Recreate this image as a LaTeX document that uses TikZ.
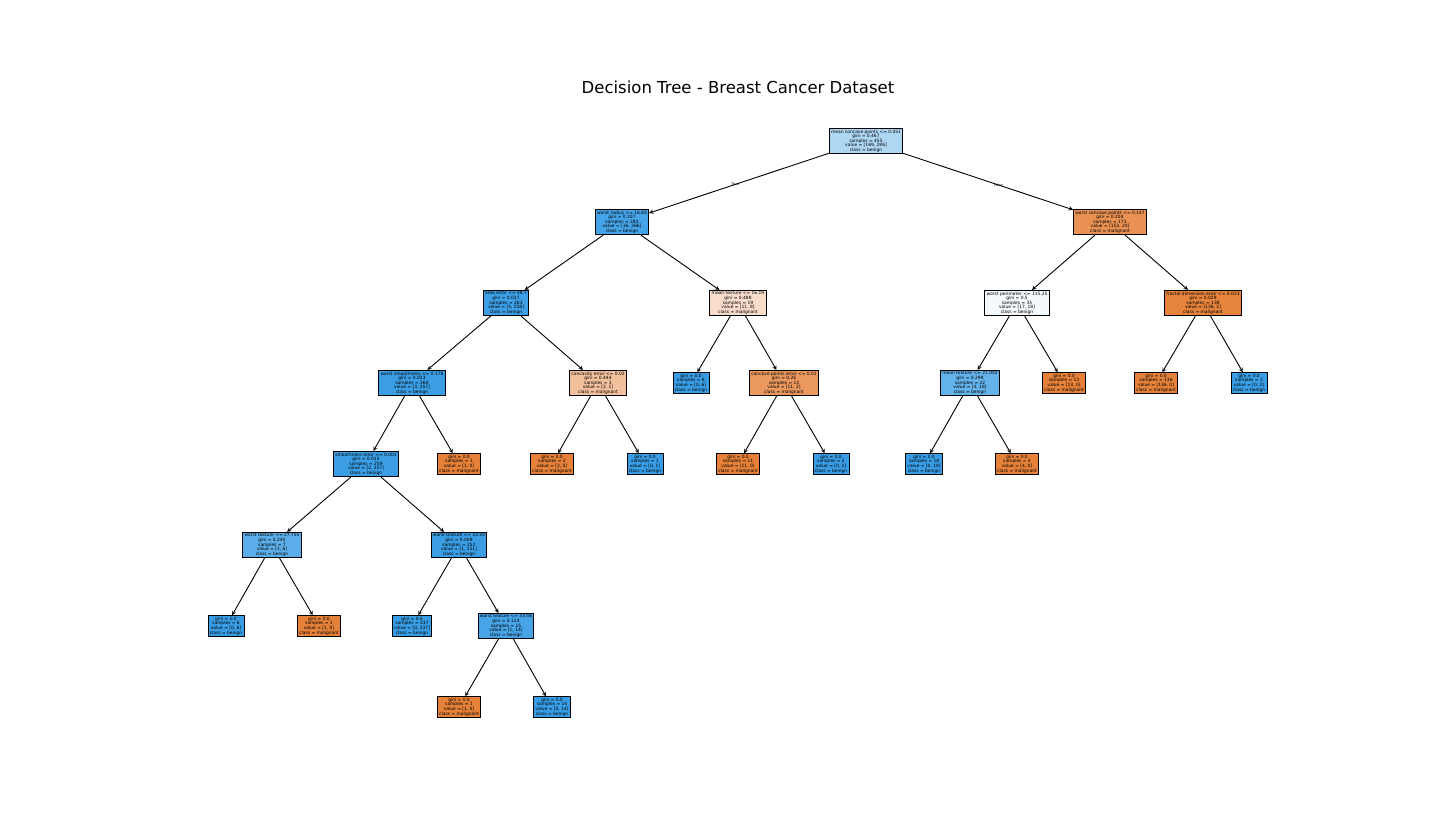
\documentclass[tikz,border=0pt]{standalone}
\usepackage{fontspec}
\setmainfont{DejaVu Sans}
\usetikzlibrary{arrows}
\definecolor{malig}{RGB}{229,129,57}
\definecolor{benig}{RGB}{57,157,229}
\tikzset{
    box/.style={draw=black, line width=0.9pt, rectangle, align=center, inner xsep=1.8pt, inner ysep=1.3pt,
        font=\fontsize{4.4}{4.6}\selectfont},
    edge/.style={line width=0.9pt, -stealth}
}

\begin{document}
\begin{tikzpicture}[x=1pt, y=-1pt]
        \fill[white] (0, 0) rectangle (1440, 840);
        \node[font=\fontsize{16.5}{19}\selectfont] (title) at (738, 87) {Decision Tree - Breast Cancer Dataset};

        \node[box, fill=benig!41!white] (n0) at (866, 141) {mean concave points <= 0.051\\gini = 0.467\\samples = 455\\value = [169, 286]\\class = benign};

        \node[box, fill=benig!94!white] (n1) at (622, 222) {worst radius <= 16.83\\gini = 0.107\\samples = 282\\value = [16, 266]\\class = benign};
        \node[box, fill=malig!87!white] (n2) at (1110, 222) {worst concave points <= 0.147\\gini = 0.204\\samples = 173\\value = [153, 20]\\class = malignant};

        \node[box, fill=benig!98!white] (n3) at (506, 303) {area error <= 48.7\\gini = 0.037\\samples = 263\\value = [5, 258]\\class = benign};
        \node[box, fill=malig!27!white] (n4) at (738, 303) {mean texture <= 16.19\\gini = 0.488\\samples = 19\\value = [11, 8]\\class = malignant};
        \node[box, fill=benig!6!white] (n5) at (1017, 303) {worst perimeter <= 115.25\\gini = 0.5\\samples = 35\\value = [17, 18]\\class = benign};
        \node[box, fill=malig!98!white] (n6) at (1203, 303) {fractal dimension error <= 0.013\\gini = 0.029\\samples = 138\\value = [136, 2]\\class = malignant};

        \node[box, fill=benig!99!white] (n7) at (412, 383) {worst smoothness <= 0.178\\gini = 0.023\\samples = 260\\value = [3, 257]\\class = benign};
        \node[box, fill=malig!50!white] (n8) at (598, 383) {concavity error <= 0.02\\gini = 0.444\\samples = 3\\value = [2, 1]\\class = malignant};
        \node[box, fill=benig] (n9) at (691, 383) {gini = 0.0\\samples = 6\\value = [0, 6]\\class = benign};
        \node[box, fill=malig!82!white] (n10) at (784, 383) {concave points error <= 0.01\\gini = 0.26\\samples = 13\\value = [11, 2]\\class = malignant};
        \node[box, fill=benig!78!white] (n11) at (970, 383) {mean texture <= 21.055\\gini = 0.298\\samples = 22\\value = [4, 18]\\class = benign};
        \node[box, fill=malig] (n12) at (1064, 383) {gini = 0.0\\samples = 13\\value = [13, 0]\\class = malignant};
        \node[box, fill=malig] (n13) at (1156, 383) {gini = 0.0\\samples = 136\\value = [136, 0]\\class = malignant};
        \node[box, fill=benig] (n14) at (1249, 383) {gini = 0.0\\samples = 2\\value = [0, 2]\\class = benign};

        \node[box, fill=benig!99!white] (n15) at (366, 464) {smoothness error <= 0.003\\gini = 0.015\\samples = 259\\value = [2, 257]\\class = benign};
        \node[box, fill=malig] (n16) at (459, 464) {gini = 0.0\\samples = 1\\value = [1, 0]\\class = malignant};
        \node[box, fill=malig] (n17) at (552, 464) {gini = 0.0\\samples = 2\\value = [2, 0]\\class = malignant};
        \node[box, fill=benig] (n18) at (645, 464) {gini = 0.0\\samples = 1\\value = [0, 1]\\class = benign};
        \node[box, fill=malig] (n19) at (738, 464) {gini = 0.0\\samples = 11\\value = [11, 0]\\class = malignant};
        \node[box, fill=benig] (n20) at (831, 464) {gini = 0.0\\samples = 2\\value = [0, 2]\\class = benign};
        \node[box, fill=benig] (n21) at (924, 464) {gini = 0.0\\samples = 18\\value = [0, 18]\\class = benign};
        \node[box, fill=malig] (n22) at (1017, 464) {gini = 0.0\\samples = 4\\value = [4, 0]\\class = malignant};

        \node[box, fill=benig!83!white] (n23) at (272, 545) {worst texture <= 27.755\\gini = 0.245\\samples = 7\\value = [1, 6]\\class = benign};
        \node[box, fill=benig!99!white] (n24) at (459, 545) {worst texture <= 33.35\\gini = 0.008\\samples = 252\\value = [1, 251]\\class = benign};

        \node[box, fill=benig] (n25) at (226, 626) {gini = 0.0\\samples = 6\\value = [0, 6]\\class = benign};
        \node[box, fill=malig] (n26) at (319, 626) {gini = 0.0\\samples = 1\\value = [1, 0]\\class = malignant};
        \node[box, fill=benig] (n27) at (412, 626) {gini = 0.0\\samples = 237\\value = [0, 237]\\class = benign};
        \node[box, fill=benig!93!white] (n28) at (506, 626) {worst texture <= 33.56\\gini = 0.124\\samples = 15\\value = [1, 14]\\class = benign};

        \node[box, fill=malig] (n29) at (459, 707) {gini = 0.0\\samples = 1\\value = [1, 0]\\class = malignant};
        \node[box, fill=benig] (n30) at (552, 707) {gini = 0.0\\samples = 14\\value = [0, 14]\\class = benign};

        \draw[edge] (n0) -- (n1) node[pos=0.52, font=\fontsize{3.6}{4}\selectfont] {True};
        \draw[edge] (n0) -- (n2) node[pos=0.56, font=\fontsize{3.6}{4}\selectfont] {False};
        \draw[edge] (n1) -- (n3);
        \draw[edge] (n1) -- (n4);
        \draw[edge] (n2) -- (n5);
        \draw[edge] (n2) -- (n6);
        \draw[edge] (n3) -- (n7);
        \draw[edge] (n3) -- (n8);
        \draw[edge] (n4) -- (n9);
        \draw[edge] (n4) -- (n10);
        \draw[edge] (n5) -- (n11);
        \draw[edge] (n5) -- (n12);
        \draw[edge] (n6) -- (n13);
        \draw[edge] (n6) -- (n14);
        \draw[edge] (n7) -- (n15);
        \draw[edge] (n7) -- (n16);
        \draw[edge] (n8) -- (n17);
        \draw[edge] (n8) -- (n18);
        \draw[edge] (n10) -- (n19);
        \draw[edge] (n10) -- (n20);
        \draw[edge] (n11) -- (n21);
        \draw[edge] (n11) -- (n22);
        \draw[edge] (n15) -- (n23);
        \draw[edge] (n15) -- (n24);
        \draw[edge] (n23) -- (n25);
        \draw[edge] (n23) -- (n26);
        \draw[edge] (n24) -- (n27);
        \draw[edge] (n24) -- (n28);
        \draw[edge] (n28) -- (n29);
        \draw[edge] (n28) -- (n30);
    \end{tikzpicture}
\end{document}
